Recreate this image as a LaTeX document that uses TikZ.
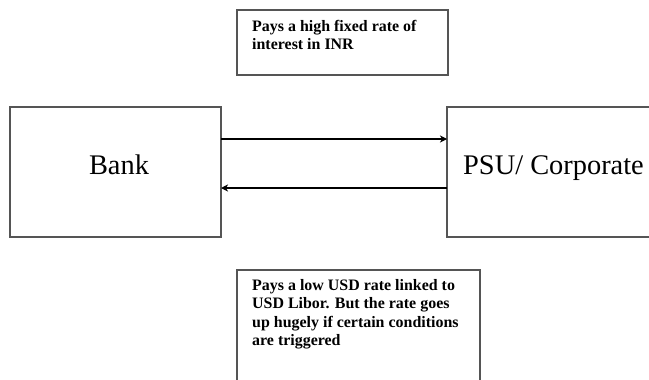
\documentclass[tikz,border=0pt]{standalone}
\usepackage{fontspec}
\setmainfont{Liberation Serif}
\usetikzlibrary{arrows.meta}
\definecolor{boxline}{HTML}{555555}
\tikzset{
  box/.style={draw=boxline, line width=1.4bp, inner sep=0pt, outer sep=0pt, anchor=north west, fill=white},
  bigtxt/.style={font=\fontsize{28.5}{34}\selectfont, inner sep=0pt, anchor=base},
  smalltxt/.style={font=\fontsize{16}{18.5}\selectfont\bfseries, inner sep=0pt, anchor=north west, align=left},
  flow/.style={line width=1.4bp, -{Stealth[length=7bp,width=7bp,inset=2bp]}}
}
\begin{document}
\begin{tikzpicture}[x=1bp,y=1bp]
\useasboundingbox[fill=white] (0,0) rectangle (649,379);
\begin{scope}
\clip (0,0) rectangle (649,379);
% top note box
\node[box, minimum width=211bp, minimum height=65bp] (high) at (237,369) {};
\node[smalltxt] (hightxt) at ([shift={(15bp,-10bp)}]high.north west) {Pays a high fixed rate of\\interest in INR};
% bank and PSU boxes
\node[box, minimum width=211bp, minimum height=130bp] (bank) at (10,272) {};
\node[bigtxt] (banktxt) at (119,205) {Bank};
\node[box, minimum width=280bp, minimum height=130bp] (psu) at (447,272) {};
\node[bigtxt, anchor=base west] (psutxt) at (463,205) {PSU/ Corporate};
% bottom note box
\node[box, minimum width=243bp, minimum height=140bp] (low) at (237,109) {};
\node[smalltxt] (lowtxt) at ([shift={(15bp,-9bp)}]low.north west) {Pays a low USD rate linked to\\USD Libor. But the rate goes\\up hugely if certain conditions\\are triggered};
% arrows
\draw[flow] (bank.east |- 0,240) -- (psu.west |- 0,240);
\draw[flow] (psu.west |- 0,191) -- (bank.east |- 0,191);
\end{scope}
\end{tikzpicture}
\end{document}
